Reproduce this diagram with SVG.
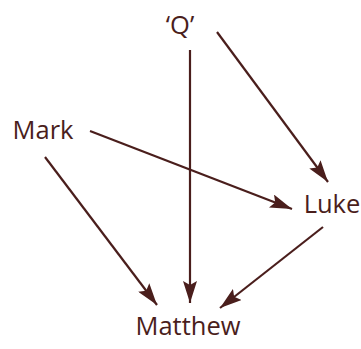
<svg xmlns="http://www.w3.org/2000/svg" width="361" height="349" viewBox="0 0 361 349">
<style>
.lbl{font-family:"Open Sans","Liberation Sans",sans-serif;font-size:25.5px;fill:#4a1e1c}
.edge{stroke:#4a1e1c;stroke-width:2.2;fill:none;marker-end:url(#ah)}
</style>
<defs>
<marker id="ah" viewBox="0 0 22 14" refX="22" refY="7" markerWidth="22" markerHeight="14" markerUnits="userSpaceOnUse" orient="auto">
<path d="M0,0 L22,7 L0,14 L4,7 Z" fill="#4a1e1c"/>
</marker>
</defs>
<rect width="361" height="349" fill="#fff"/>
<g id="connectors">
<line class="edge" x1="190" y1="50" x2="190" y2="303"/>
<line class="edge" x1="217" y1="32" x2="328" y2="182"/>
<line class="edge" x1="90" y1="131" x2="292" y2="209"/>
<line class="edge" x1="45" y1="157" x2="157" y2="305"/>
<line class="edge" x1="323" y1="227" x2="220" y2="308"/>
</g>
<g id="Q"><text class="lbl" x="180" y="34" text-anchor="middle">‘Q’</text></g>
<g id="Mark"><text class="lbl" x="43" y="139" text-anchor="middle">Mark</text></g>
<g id="Luke"><text class="lbl" x="332" y="213" text-anchor="middle">Luke</text></g>
<g id="Matthew"><text class="lbl" x="188" y="335" text-anchor="middle">Matthew</text></g>
</svg>
